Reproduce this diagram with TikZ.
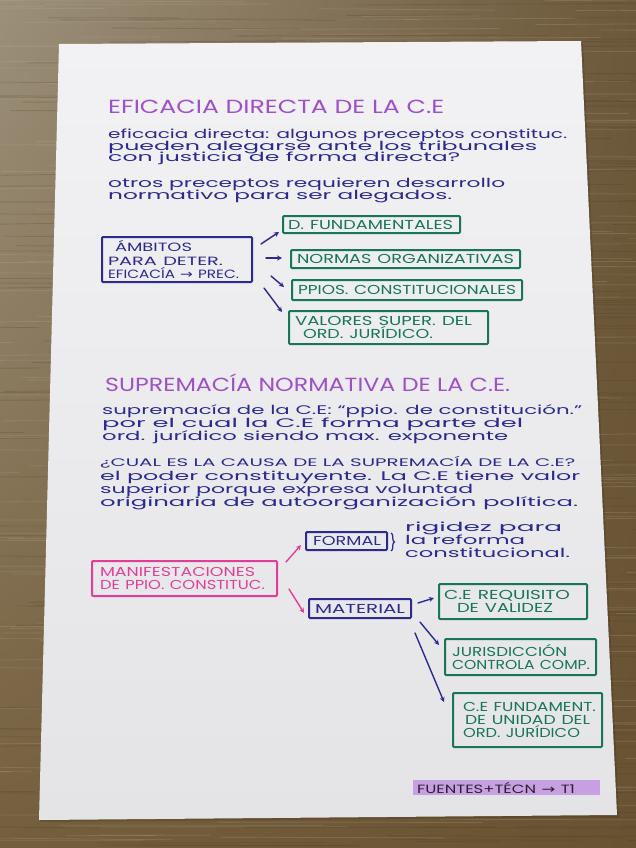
\documentclass[tikz,border=0pt]{standalone}
\usepackage{fontspec}
\usepackage{graphicx}
\setmainfont{Poppins}
\newfontfamily\arrowfont{DejaVu Sans}
\usetikzlibrary{arrows.meta,decorations.pathreplacing,shadings}
\definecolor{titlepurple}{RGB}{158,80,200}
\definecolor{ink}{RGB}{44,42,142}
\definecolor{inkgreen}{RGB}{22,118,86}
\definecolor{inkpink}{RGB}{226,62,152}
\definecolor{hilite}{RGB}{200,160,226}
\definecolor{penblack}{RGB}{40,34,48}
\definecolor{paperA}{RGB}{242,242,244}
\definecolor{paperB}{RGB}{228,228,231}
\definecolor{woodA}{RGB}{156,144,122}
\definecolor{woodB}{RGB}{108,88,58}
\definecolor{woodC}{RGB}{116,94,60}
\definecolor{woodD}{RGB}{104,82,50}
\definecolor{grainL}{RGB}{190,176,148}
\definecolor{grainD}{RGB}{72,56,36}
\newcommand{\fw}[2]{\resizebox{#1pt}{\height}{#2}}
\newcommand{\arr}{{\arrowfont →}}
\tikzset{
  title/.style={anchor=base west, inner sep=0pt, text=titlepurple, font=\fontsize{19}{19}\selectfont},
  body/.style={anchor=base west, inner sep=0pt, text=ink, font=\fontsize{12.5}{12.5}\selectfont},
  bodycaps/.style={anchor=base west, inner sep=0pt, text=ink, font=\fontsize{11}{11}\selectfont},
  markbox/.style={draw, line width=2pt, rounded corners=1pt, align=left, inner ysep=0pt,
    font=\fontsize{13}{13}\selectfont},
  bluebox/.style={markbox, draw=ink, text=ink},
  greenbox/.style={markbox, draw=inkgreen, text=inkgreen},
  pinkbox/.style={markbox, draw=inkpink, text=inkpink},
  arr/.style={-{Stealth[length=5pt,width=5pt]}, line width=1.4pt, line cap=round},
}
\begin{document}
\begin{tikzpicture}[x=1pt,y=-1pt]
\useasboundingbox (0,0) rectangle (636,848);
% wood table
\shade[upper left=woodA, upper right=woodB, lower left=woodC, lower right=woodD] (0,0) rectangle (636,848);
\pgfmathsetseed{11}
\foreach \i in {1,...,260}{
  \pgfmathsetmacro{\yy}{rnd*848}
  \pgfmathsetmacro{\xx}{rnd*760-120}
  \pgfmathsetmacro{\ll}{80+rnd*260}
  \pgfmathsetmacro{\dy}{(rnd-0.5)*4}
  \draw[grainL, opacity=0.22, line width=0.8pt] (\xx,\yy) -- (\xx+\ll,\yy+\dy);
}
\foreach \i in {1,...,260}{
  \pgfmathsetmacro{\yy}{rnd*848}
  \pgfmathsetmacro{\xx}{rnd*760-120}
  \pgfmathsetmacro{\ll}{80+rnd*260}
  \pgfmathsetmacro{\dy}{(rnd-0.5)*4}
  \draw[grainD, opacity=0.2, line width=0.9pt] (\xx,\yy) -- (\xx+\ll,\yy+\dy);
}
% paper
\fill[black, opacity=0.12] (60,46) -- (583,43) -- (619,817) -- (40,822) -- cycle;
\shade[top color=paperA, bottom color=paperB] (59,44) -- (581,41) -- (617,815) -- (39,820) -- cycle;

% ---------- section 1 ----------
\node[title] (t1) at (108,114) {\fw{336}{EFICACIA DIRECTA DE LA C.E}};
\node[body] (p1) at (108,138.5) {\fw{459}{eficacia directa: algunos preceptos constituc.}};
\node[body] (p2) at (108,150.5) {\fw{429}{pueden alegarse ante los tribunales}};
\node[body] (p3) at (108,161.5) {\fw{352}{con justicia de forma directa?}};
\node[body] (p4) at (108,187.5) {\fw{397}{otros preceptos requieren desarrollo}};
\node[body] (p5) at (108,199.5) {\fw{344}{normativo para ser alegados.}};

\node[bluebox, minimum width=150pt, minimum height=45pt, text width=138pt, inner xsep=6pt,
  font=\fontsize{12}{13.5}\selectfont] (amb) at (177,259.5)
  {\hspace*{7pt}\fw{77}{ÁMBITOS}\\\fw{115}{PARA DETER.}\\\fw{131}{EFICACÍA \arr\ PREC.}};
\node[greenbox, minimum width=177pt, minimum height=17pt, text width=167pt, inner xsep=5pt] (df) at (371.5,224.5)
  {\fw{165}{D. FUNDAMENTALES}};
\node[greenbox, minimum width=229pt, minimum height=18pt, text width=217pt, inner xsep=6pt] (no) at (405.5,259)
  {\fw{217}{NORMAS ORGANIZATIVAS}};
\node[greenbox, minimum width=230pt, minimum height=20pt, text width=218pt, inner xsep=6pt] (pp) at (407,290)
  {\fw{218}{PPIOS. CONSTITUCIONALES}};
\node[greenbox, minimum width=199pt, minimum height=33pt, text width=187pt, inner xsep=6pt] (va) at (388.5,327.5)
  {\fw{177}{VALORES SUPER. DEL}\\\hspace*{8pt}\fw{130}{ORD. JURÍDICO.}};

\draw[arr, ink] ([shift={(8,8)}]amb.north east) -- ([shift={(-3,7.5)}]df.west);
\draw[arr, ink] ([shift={(13,-1.5)}]amb.east) -- ([shift={(-8,-1)}]no.west);
\draw[arr, ink] ([shift={(18,-7)}]amb.south east) -- ([shift={(-7,-3)}]pp.west);
\draw[arr, ink] ([shift={(11,5)}]amb.south east) -- ([shift={(-6,2)}]va.north west);

% ---------- section 2 ----------
\node[title] (t2) at (105,391) {\fw{405}{SUPREMACÍA NORMATIVA DE LA C.E.}};
\node[body] (s1) at (102,414.5) {\fw{480}{supremacía de la C.E: “ppio. de constitución.”}};
\node[body] (s2) at (102,427) {\fw{421}{por el cual la C.E forma parte del}};
\node[body] (s3) at (102,440.5) {\fw{406}{ord. jurídico siendo max. exponente}};
\node[bodycaps] (q1) at (100,466) {\fw{475}{¿CUAL ES LA CAUSA DE LA SUPREMACÍA DE LA C.E?}};
\node[body] (q2) at (100,480.5) {\fw{480}{el poder constituyente. La C.E tiene valor}};
\node[body] (q3) at (100,493.5) {\fw{373}{superior porque expresa voluntad}};
\node[body] (q4) at (100,506.5) {\fw{478}{originaria de autoorganización política.}};

\node[pinkbox, minimum width=185pt, minimum height=35pt, text width=169pt, inner xsep=8pt] (man) at (184.5,578.5)
  {\fw{155}{MANIFESTACIONES}\\\fw{165}{DE PPIO. CONSTITUC.}};
\node[bluebox, minimum width=81pt, minimum height=18pt, text width=67pt, inner xsep=7pt] (for) at (346.5,541)
  {\fw{68}{FORMAL}};
\node[bluebox, minimum width=102pt, minimum height=19pt, text width=90pt, inner xsep=6pt] (mat) at (360,608.5)
  {\fw{90}{MATERIAL}};

\coordinate (br1) at (391,533);
\coordinate (br2) at (391,551);
\draw[ink, line width=1.3pt, decorate, decoration={brace, amplitude=3.5pt}] (br1) -- (br2);
\node[body] (r1) at (405,531.5) {\fw{157}{rigidez para}};
\node[body] (r2) at (405,544.5) {\fw{120}{la reforma}};
\node[body] (r3) at (405,557.5) {\fw{165}{constitucional.}};

\node[greenbox, minimum width=148pt, minimum height=35pt, text width=138pt, inner xsep=5pt] (cer) at (513,601.5)
  {\fw{126}{C.E REQUISITO}\\\hspace*{13pt}\fw{96}{DE VALIDEZ}};
\node[greenbox, minimum width=151pt, minimum height=36pt, text width=137pt, inner xsep=7pt] (jur) at (520.5,657)
  {\fw{115}{JURISDICCIÓN}\\\fw{138}{CONTROLA COMP.}};
\node[greenbox, minimum width=149pt, minimum height=54pt, text width=129pt, inner xsep=10pt] (cef) at (527.5,720)
  {\fw{133}{C.E FUNDAMENT.}\\\hspace*{2pt}\fw{125}{DE UNIDAD DEL}\\\fw{117}{ORD. JURÍDICO}};

\draw[arr, inkpink] ([shift={(8,2)}]man.north east) -- ([shift={(-4,4)}]for.west);
\draw[arr, inkpink] ([shift={(11,10.5)}]man.east) -- ([shift={(-4,4.5)}]mat.west);
\draw[arr, ink] ([shift={(6,-5.5)}]mat.east) -- ([shift={(-4,-3.5)}]cer.west);
\draw[arr, ink] ([shift={(8,3)}]mat.south east) -- ([shift={(-5,-12)}]jur.west);
\draw[arr, ink] ([shift={(3,14)}]mat.south east) -- ([shift={(-8,-18)}]cef.west);

% ---------- footer tag ----------
\node[fill=hilite, minimum width=187pt, minimum height=15pt, text width=179pt, inner xsep=4pt, inner ysep=0pt,
  align=left, text=penblack, font=\fontsize{12}{12}\selectfont] (tag) at (506.5,787.5)
  {\fw{158}{FUENTES+TÉCN \arr\ T1}};
\end{tikzpicture}
\end{document}
